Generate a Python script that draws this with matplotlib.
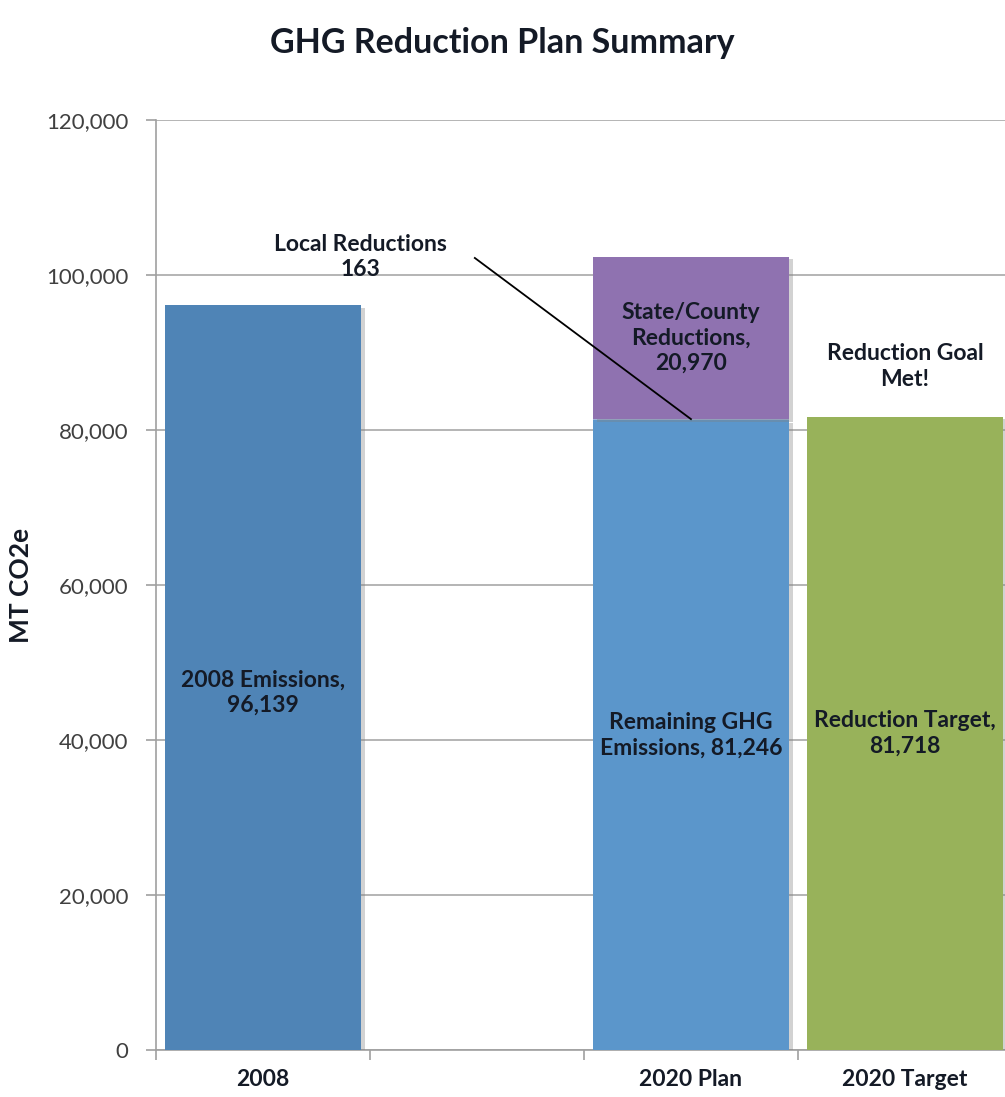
import matplotlib
matplotlib.use("Agg")
import matplotlib.pyplot as plt
import matplotlib.patheffects as pe
from matplotlib.ticker import FuncFormatter

plt.rcParams['font.family'] = ['Lato', 'DejaVu Sans']

# chart data
categories = ['2008', '', '2020 Plan', '2020 Target']
emissions_2008 = 96139
remaining_2020 = 81246
local_reductions = 163
state_county_reductions = 20970
reduction_target = 81718

TEXT = '#141a26'
shadow = [pe.SimplePatchShadow(offset=(3, -2), shadow_rgbFace='#808080', alpha=0.35), pe.Normal()]

fig = plt.figure(figsize=(10.05, 10.97), dpi=100)
ax = fig.add_axes([0.1552, 0.0428, 0.8517, 0.8478])

x = list(range(len(categories)))
w = 0.915

ax.bar(x[0], emissions_2008, width=w, color='#4F84B6', path_effects=shadow, zorder=3)
ax.bar(x[2], remaining_2020, width=w, color='#5B96CB', path_effects=shadow, zorder=3)
ax.bar(x[2], local_reductions, width=w, bottom=remaining_2020, color='#9DB4DA', zorder=3)
ax.bar(x[2], state_county_reductions, width=w, bottom=remaining_2020 + local_reductions,
       color='#8F72B0', path_effects=shadow, zorder=3)
ax.bar(x[3], reduction_target, width=w, color='#98B25A', path_effects=shadow, zorder=3)

lbl = dict(ha='center', va='center', fontsize=16.5, fontweight='bold', color=TEXT,
           linespacing=1.25, zorder=5)
ax.text(x[0], emissions_2008 / 2 - 2000, f'2008 Emissions,\n{emissions_2008:,}', **lbl)
ax.text(x[2], remaining_2020 / 2, f'Remaining GHG\nEmissions, {remaining_2020:,}', **lbl)
ax.text(x[2], remaining_2020 + local_reductions + state_county_reductions / 2,
        f'State/County\nReductions,\n{state_county_reductions:,}', **lbl)
ax.text(x[3], reduction_target / 2, f'Reduction Target,\n{reduction_target:,}', **lbl)
ax.text(x[3], 88200, 'Reduction Goal\nMet!', **lbl)

# leader line for the tiny local reductions slice
ax.text(0.455, 102300, f'Local Reductions\n{local_reductions}', **lbl)
ax.plot([0.99, x[2]], [102200, remaining_2020 + local_reductions], color='black',
        lw=1.3, zorder=6)

ax.set_xlim(-0.5, 3.5)
ax.set_ylim(0, 120000)
ax.set_yticks(range(0, 120001, 20000))
ax.yaxis.set_major_formatter(FuncFormatter(lambda v, p: f'{int(v):,}'))
ax.set_xticks([-0.5, 0.5, 1.5, 2.5, 3.5], minor=False)
ax.set_xticklabels([])
ax.set_xticks(x, minor=True)
ax.set_xticklabels(categories, minor=True, fontsize=16.5, fontweight='bold', color=TEXT)
ax.tick_params(axis='x', which='minor', length=0, pad=14)
ax.tick_params(axis='x', which='major', length=7, color='#a0a0a0', width=1.2)
ax.tick_params(axis='y', length=7, color='#a0a0a0', width=1.2, labelsize=16,
               labelcolor='#404040', pad=13)

ax.grid(axis='y', color='#b4b4b4', lw=1.4, zorder=0)
for side in ['top', 'right']:
    ax.spines[side].set_visible(False)
for side in ['left', 'bottom']:
    ax.spines[side].set_color('#a0a0a0')
    ax.spines[side].set_linewidth(1.2)

ax.set_ylabel('MT CO2e', fontsize=19, fontweight='bold', color=TEXT, labelpad=9)
fig.suptitle('GHG Reduction Plan Summary', x=0.5, y=0.975, fontsize=24.5,
             fontweight='bold', color=TEXT)

fig.savefig('out.png', dpi=100)
